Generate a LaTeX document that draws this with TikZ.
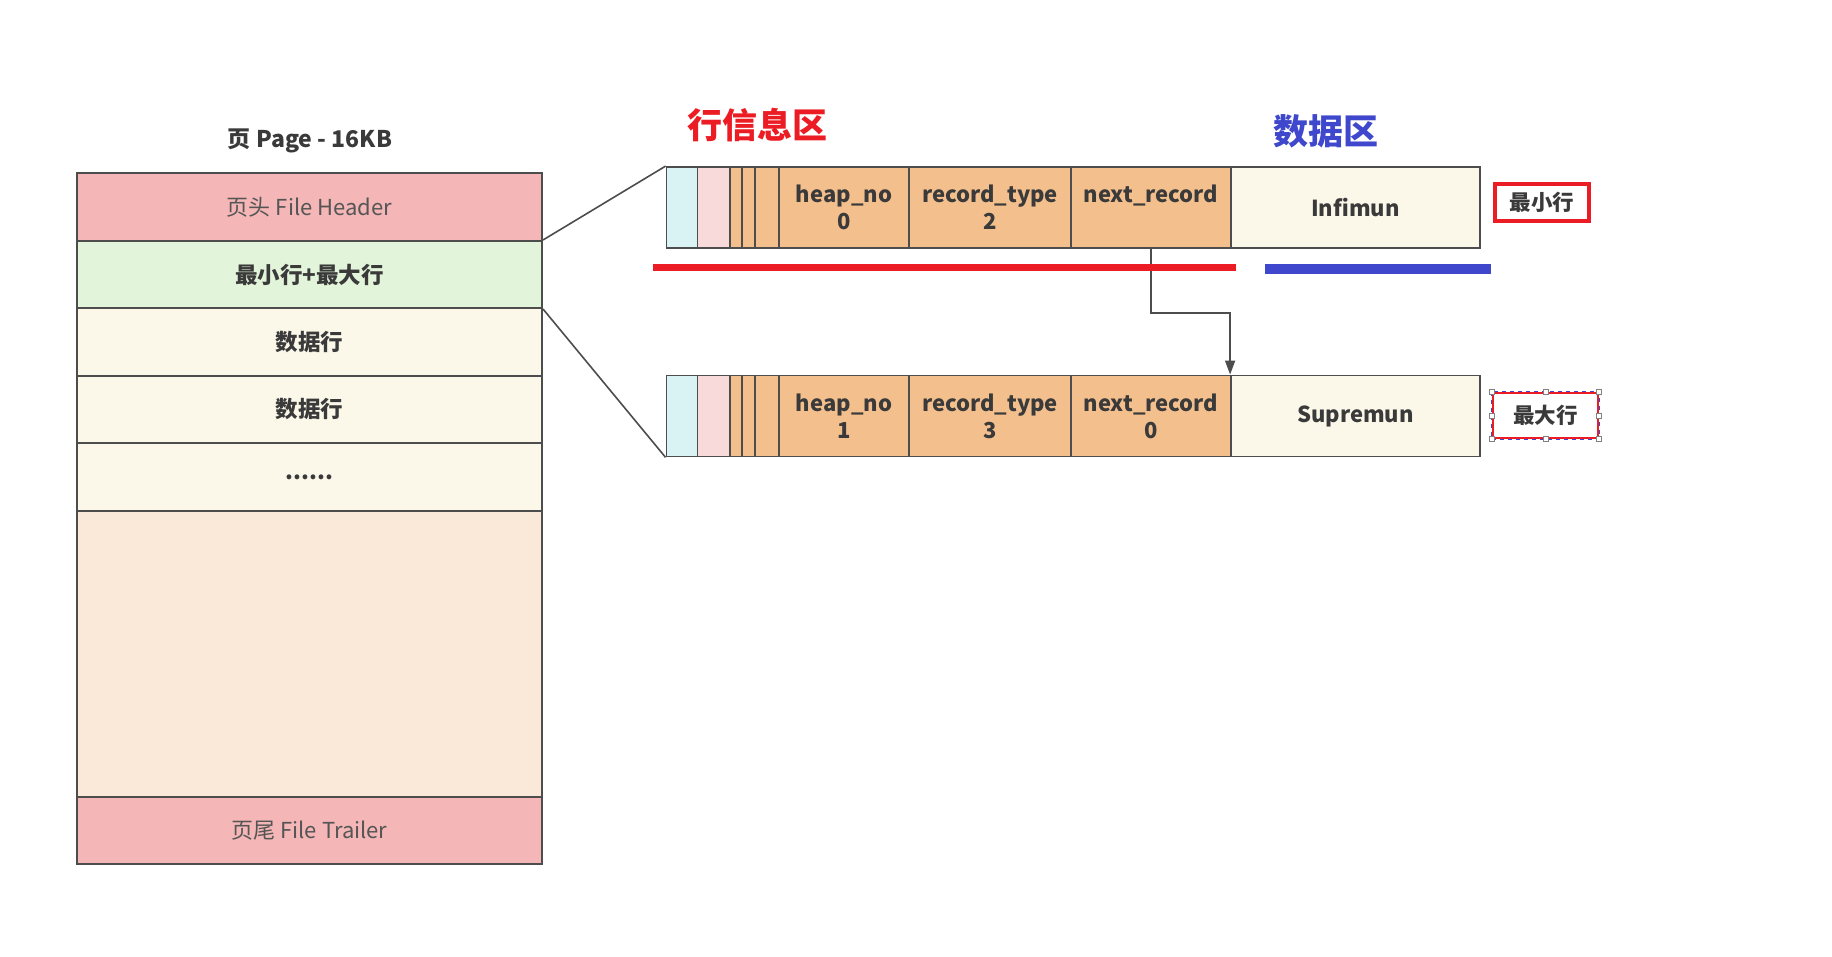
\documentclass[tikz,border=0pt]{standalone}
\usepackage{fontspec}
\setmainfont{Noto Sans CJK SC}
\usetikzlibrary{arrows.meta}
\definecolor{linec}{HTML}{4D4D4D}
\definecolor{txtc}{HTML}{3A3A3A}
\definecolor{softtxt}{HTML}{555555}
\definecolor{hdrfill}{HTML}{F4B6B6}
\definecolor{greenfill}{HTML}{E2F4D9}
\definecolor{creamfill}{HTML}{FBF7E9}
\definecolor{freefill}{HTML}{FAE8D8}
\definecolor{cyanfill}{HTML}{D9F3F4}
\definecolor{pinkfill}{HTML}{F9DADA}
\definecolor{orangefill}{HTML}{F3BF8D}
\definecolor{markred}{HTML}{EC1C24}
\definecolor{markblue}{HTML}{3F48CC}
\tikzset{
  pagerow/.style={draw=linec, line width=2pt, minimum width=465pt, inner sep=0pt,
    text=txtc, font=\fontsize{22.5}{26}\selectfont\bfseries},
  cell/.style={draw=linec, line width=1.8pt, minimum height=81pt, inner sep=0pt,
    text=txtc, align=center, font=\fontsize{22}{27}\selectfont\bfseries},
  link/.style={draw=linec, line width=1.6pt},
  ptr/.style={draw=linec, line width=1.6pt, -{Triangle[length=14pt,width=10pt]}},
  tag/.style={text=txtc, font=\fontsize{21.5}{25}\selectfont\bfseries},
  heading/.style={font=\fontsize{35}{40}\selectfont\bfseries}
}
\begin{document}
\begin{tikzpicture}[x=1pt,y=-1pt]
\useasboundingbox[fill=white] (0,0) rectangle (1832,957);

% page layout column
\node[font=\fontsize{23}{27}\selectfont\bfseries, text=txtc] (title) at (310,141) {页 Page - 16KB};
\node[pagerow, fill=hdrfill, minimum height=68pt, font=\fontsize{22}{26}\selectfont, text=softtxt] (hdr) at (309.5,207) {页头 File Header};
\node[pagerow, fill=greenfill, minimum height=67pt] (mm) at (309.5,274.5) {最小行+最大行};
\node[pagerow, fill=creamfill, minimum height=68pt] (d1) at (309.5,342) {数据行};
\node[pagerow, fill=creamfill, minimum height=67pt] (d2) at (309.5,409.5) {数据行};
\node[pagerow, fill=creamfill, minimum height=68pt] (dots) at (309.5,477) {......};
\node[pagerow, fill=freefill, minimum height=286pt] (free) at (309.5,654) {};
\node[pagerow, fill=hdrfill, minimum height=67pt, font=\fontsize{22}{26}\selectfont, text=softtxt] (trl) at (309.5,830.5) {页尾 File Trailer};

% headings
\node[heading, text=markred] (rowinfo) at (757,125) {行信息区};
\node[heading, text=markblue] (datazone) at (1326,131) {数据区};

% infimum record
\node[cell, fill=cyanfill, minimum width=31pt] (a1) at (682,207.5) {};
\node[cell, fill=pinkfill, minimum width=32.5pt] (a2) at (713.75,207.5) {};
\node[cell, fill=orangefill, minimum width=12pt] (a3) at (736,207.5) {};
\node[cell, fill=orangefill, minimum width=13pt] (a4) at (748.5,207.5) {};
\node[cell, fill=orangefill, minimum width=24pt] (a5) at (767,207.5) {};
\node[cell, fill=orangefill, minimum width=130pt] (aheap) at (844,207.5) {heap\_no\\0};
\node[cell, fill=orangefill, minimum width=162pt] (atype) at (990,207.5) {record\_type\\2};
\node[cell, fill=orangefill, minimum width=160pt] (anext) at (1151,207.5) {next\_record\\\phantom{0}};
\node[cell, fill=creamfill, minimum width=249pt] (adata) at (1355.5,207.5) {Infimun};

% supremum record
\node[cell, fill=cyanfill, minimum width=31pt] (b1) at (682,416) {};
\node[cell, fill=pinkfill, minimum width=32.5pt] (b2) at (713.75,416) {};
\node[cell, fill=orangefill, minimum width=12pt] (b3) at (736,416) {};
\node[cell, fill=orangefill, minimum width=13pt] (b4) at (748.5,416) {};
\node[cell, fill=orangefill, minimum width=24pt] (b5) at (767,416) {};
\node[cell, fill=orangefill, minimum width=130pt] (bheap) at (844,416) {heap\_no\\1};
\node[cell, fill=orangefill, minimum width=162pt] (btype) at (990,416) {record\_type\\3};
\node[cell, fill=orangefill, minimum width=160pt] (bnext) at (1151,416) {next\_record\\0};
\node[cell, fill=creamfill, minimum width=249pt] (bdata) at (1355.5,416) {Supremun};

% zoom-in lines from the page column
\draw[link] (mm.north east) -- (a1.north west);
\draw[link] (mm.south east) -- (b1.south west);

% next_record pointer
\draw[ptr] (anext.south) -- ++(0,64) -| (bdata.north west);

% area underlines
\draw[markred, line width=7pt] (653,268) -- (1236,268);
\draw[markblue, line width=10pt] (1265,269.5) -- (1491,269.5);

% row tags
\node[tag, draw=markred, line width=4pt, minimum width=94pt, minimum height=37pt, inner sep=0pt] (mintag) at (1542,202.5) {最小行};
\node[tag, draw=markred, line width=2.5pt, minimum width=105pt, minimum height=45pt, inner sep=0pt] (maxtag) at (1545.5,415.5) {最大行};
\draw[markblue, line width=0.8pt, dash pattern=on 4pt off 4pt] (maxtag.north west) rectangle (maxtag.south east);
\foreach \h in {north west,north,north east,east,south east,south,south west,west}
  \node[draw=gray, fill=white, line width=0.8pt, minimum size=5pt, inner sep=0pt] at (maxtag.\h) {};
\end{tikzpicture}
\end{document}
